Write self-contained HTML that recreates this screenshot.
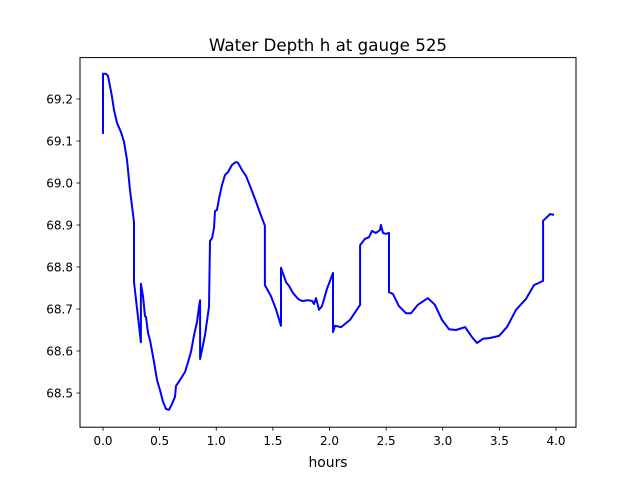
<!DOCTYPE html>
<html><head><meta charset="utf-8"><style>
html,body{margin:0;padding:0;background:#fff;}
svg{display:block;font-family:"DejaVu Sans","Liberation Sans",sans-serif;}
</style></head><body>
<svg id="chart" width="640" height="480" viewBox="0 0 640 480">
<rect width="640" height="480" fill="#fff"/>
<text x="328" y="51" font-size="16.7" text-anchor="middle">Water Depth h at gauge 525</text>
<g id="plot"></g>
<rect x="80" y="57.6" width="496" height="369.6" fill="none" stroke="#000" stroke-width="1"/>
<text x="328" y="467" font-size="13.9" text-anchor="middle">hours</text>
</svg>
<script>
const hours=[0,0,0.026,0.044,0.079,0.097,0.124,0.159,0.185,0.212,0.238,0.274,0.274,0.335,0.335,0.353,0.371,0.38,0.397,0.415,0.45,0.477,0.503,0.53,0.556,0.583,0.609,0.636,0.645,0.68,0.724,0.751,0.777,0.803,0.83,0.848,0.857,0.857,0.901,0.936,0.945,0.963,0.98,0.989,1.007,1.025,1.051,1.077,1.104,1.139,1.174,1.192,1.227,1.263,1.298,1.342,1.386,1.43,1.43,1.483,1.527,1.572,1.572,1.616,1.642,1.678,1.722,1.757,1.81,1.846,1.863,1.881,1.907,1.934,1.978,2.031,2.031,2.049,2.102,2.181,2.27,2.27,2.313,2.349,2.375,2.41,2.446,2.454,2.472,2.498,2.525,2.525,2.56,2.613,2.675,2.72,2.781,2.869,2.931,2.993,3.055,3.117,3.197,3.258,3.302,3.355,3.417,3.497,3.567,3.647,3.735,3.806,3.886,3.886,3.929,3.947,3.982];
const depth=[69.117,69.26,69.26,69.255,69.207,69.174,69.143,69.121,69.098,69.055,68.983,68.907,68.764,68.621,68.76,68.731,68.683,68.681,68.643,68.626,68.574,68.531,68.507,68.479,68.462,68.46,68.474,68.491,68.517,68.531,68.55,68.574,68.598,68.636,68.669,68.705,68.721,68.581,68.638,68.705,68.862,68.869,68.893,68.933,68.936,68.964,68.995,69.019,69.026,69.043,69.05,69.048,69.031,69.017,68.993,68.962,68.929,68.898,68.757,68.731,68.7,68.66,68.798,68.764,68.755,68.738,68.724,68.719,68.721,68.719,68.712,68.726,68.698,68.707,68.748,68.786,68.645,68.66,68.657,68.674,68.71,68.852,68.867,68.871,68.886,68.881,68.888,68.9,68.881,68.879,68.881,68.74,68.736,68.707,68.69,68.69,68.71,68.726,68.71,68.674,68.652,68.65,68.657,68.633,68.619,68.629,68.631,68.636,68.657,68.698,68.724,68.757,68.767,68.91,68.921,68.926,68.924];
const xTicks=[0,0.5,1,1.5,2,2.5,3,3.5,4];
const xTickLabels=["0.0","0.5","1.0","1.5","2.0","2.5","3.0","3.5","4.0"];
const yTicks=[68.5,68.6,68.7,68.8,68.9,69.0,69.1,69.2];
const yTickLabels=["68.5","68.6","68.7","68.8","68.9","69.0","69.1","69.2"];

const NS="http://www.w3.org/2000/svg";
function xs(v){return 103+v*113.25;}
function ys(v){return 99+(69.2-v)*420;}
const g=document.getElementById('plot');
function mk(t,a){const e=document.createElementNS(NS,t);for(const k in a)e.setAttribute(k,a[k]);return e;}
xTicks.forEach((t,i)=>{
  const l=mk('line',{x1:xs(t),x2:xs(t),y1:427.2,y2:430.7,stroke:'#000','stroke-width':0.8});
  
  
  g.appendChild(l);
  const tx=mk('text',{x:xs(t),y:445,'font-size':12,'text-anchor':'middle'});
  tx.textContent=xTickLabels[i];
  
  
  g.appendChild(tx);
});
yTicks.forEach((t,i)=>{
  const l=mk('line',{x1:76.5,x2:80,y1:ys(t),y2:ys(t),stroke:'#000','stroke-width':0.8});
  
  
  g.appendChild(l);
  const tx=mk('text',{x:73,y:ys(t)+4.3,'font-size':12,'text-anchor':'end'});
  tx.textContent=yTickLabels[i];
  
  
  g.appendChild(tx);
});
const pts=hours.map((h,i)=>xs(h).toFixed(1)+','+ys(depth[i]).toFixed(1)).join(' ');
const pl=mk('polyline',{points:pts,fill:'none',stroke:'#0000ff','stroke-width':2,'stroke-linejoin':'round'});


g.appendChild(pl);
</script>
</body></html>
